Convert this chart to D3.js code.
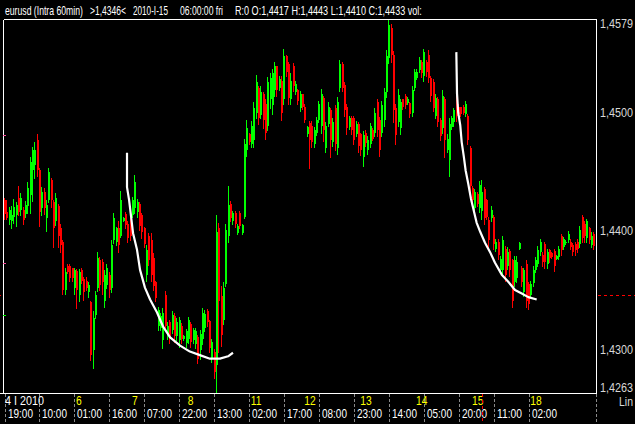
<!DOCTYPE html>
<html><head><meta charset="utf-8">
<script src="https://cdn.jsdelivr.net/npm/d3@7/dist/d3.min.js"></script>
<style>html,body{margin:0;padding:0;background:#000;}svg{display:block;}</style>
</head><body>
<script>
// ---- data (EUR/USD hourly bars) ----
const opens = [
1.4426,1.4416,1.4409,1.4408,1.4412,1.4413,1.4428,1.4418,1.4418,1.4414,
1.4421,1.4430,1.4451,1.4456,1.4477,1.4451,1.4419,1.4433,1.4411,1.4426,
1.4443,1.4424,1.4408,1.4421,1.4402,1.4391,1.4350,1.4370,1.4370,1.4369,
1.4352,1.4366,1.4346,1.4367,1.4359,1.4358,1.4348,1.4340,1.4299,1.4329,
1.4352,1.4375,1.4374,1.4341,1.4354,1.4363,1.4352,1.4392,1.4391,1.4402,
1.4396,1.4408,1.4414,1.4406,1.4408,1.4413,1.4419,1.4416,1.4423,1.4413,
1.4402,1.4363,1.4396,1.4392,1.4377,1.4357,1.4320,1.4318,1.4308,1.4346,
1.4312,1.4323,1.4316,1.4328,1.4311,1.4308,1.4320,1.4309,1.4305,1.4309,
1.4321,1.4308,1.4304,1.4310,1.4299,1.4309,1.4318,1.4332,1.4324,1.4292,
1.4298,1.4287,1.4402,1.4345,1.4325,1.4355,1.4396,1.4423,1.4408,1.4415,
1.4398,1.4415,1.4398,1.4412,1.4468,1.4482,1.4473,1.4477,1.4500,1.4521,
1.4498,1.4516,1.4507,1.4489,1.4511,1.4506,1.4519,1.4539,1.4521,1.4527,
1.4511,1.4548,1.4541,1.4511,1.4539,1.4517,1.4519,1.4504,1.4516,1.4505,
1.4482,1.4491,1.4489,1.4473,1.4483,1.4494,1.4489,1.4512,1.4470,1.4490,
1.4502,1.4475,1.4504,1.4470,1.4521,1.4541,1.4523,1.4505,1.4488,1.4495,
1.4495,1.4482,1.4490,1.4482,1.4462,1.4483,1.4468,1.4473,1.4485,1.4483,
1.4509,1.4494,1.4483,1.4494,1.4517,1.4546,1.4571,1.4549,1.4504,1.4492,
1.4487,1.4511,1.4514,1.4508,1.4508,1.4500,1.4521,1.4529,1.4536,1.4543,
1.4531,1.4543,1.4549,1.4529,1.4526,1.4497,1.4511,1.4494,1.4487,1.4511,
1.4468,1.4460,1.4488,1.4492,1.4512,1.4505,1.4505,1.4505,1.4499,1.4497,
1.4470,1.4436,1.4419,1.4431,1.4419,1.4417,1.4435,1.4426,1.4409,1.4411,
1.4412,1.4385,1.4391,1.4367,1.4367,1.4385,1.4370,1.4383,1.4375,1.4357,
1.4360,1.4385,1.4369,1.4348,1.4372,1.4355,1.4346,1.4356,1.4367,1.4372,
1.4382,1.4380,1.4389,1.4372,1.4384,1.4381,1.4383,1.4376,1.4378,1.4396,
1.4386,1.4390,1.4392,1.4391,1.4388,1.4389,1.4391,1.4389,1.4412,1.4406,
1.4394,1.4402,1.4388,1.4397];
const highs = [
1.4428,1.4426,1.4420,1.4421,1.4427,1.4424,1.4438,1.4432,1.4420,1.4425,
1.4441,1.4462,1.4471,1.4475,1.4482,1.4453,1.4437,1.4436,1.4426,1.4453,
1.4445,1.4426,1.4432,1.4423,1.4406,1.4392,1.4369,1.4372,1.4372,1.4369,
1.4369,1.4368,1.4368,1.4369,1.4361,1.4361,1.4357,1.4341,1.4332,1.4349,
1.4382,1.4378,1.4376,1.4367,1.4372,1.4365,1.4392,1.4415,1.4403,1.4408,
1.4434,1.4412,1.4416,1.4408,1.4411,1.4429,1.4447,1.4427,1.4424,1.4415,
1.4403,1.4388,1.4398,1.4398,1.4381,1.4358,1.4336,1.4331,1.4335,1.4349,
1.4323,1.4325,1.4332,1.4331,1.4326,1.4327,1.4322,1.4312,1.4317,1.4327,
1.4323,1.4318,1.4318,1.4312,1.4316,1.4335,1.4333,1.4334,1.4325,1.4309,
1.4300,1.4413,1.4407,1.4353,1.4357,1.4406,1.4438,1.4425,1.4417,1.4417,
1.4406,1.4417,1.4406,1.4478,1.4494,1.4483,1.4493,1.4509,1.4532,1.4522,
1.4522,1.4517,1.4511,1.4530,1.4533,1.4537,1.4543,1.4539,1.4531,1.4531,
1.4554,1.4549,1.4543,1.4533,1.4542,1.4527,1.4520,1.4518,1.4516,1.4507,
1.4489,1.4493,1.4493,1.4488,1.4496,1.4510,1.4520,1.4514,1.4492,1.4509,
1.4504,1.4495,1.4506,1.4513,1.4544,1.4543,1.4526,1.4507,1.4497,1.4497,
1.4497,1.4493,1.4492,1.4483,1.4484,1.4485,1.4480,1.4491,1.4487,1.4504,
1.4511,1.4496,1.4510,1.4521,1.4553,1.4578,1.4575,1.4552,1.4507,1.4520,
1.4511,1.4511,1.4516,1.4513,1.4509,1.4522,1.4537,1.4537,1.4547,1.4544,
1.4554,1.4544,1.4553,1.4531,1.4528,1.4516,1.4513,1.4495,1.4519,1.4513,
1.4482,1.4495,1.4497,1.4504,1.4514,1.4507,1.4505,1.4506,1.4510,1.4499,
1.4472,1.4438,1.4435,1.4433,1.4442,1.4443,1.4437,1.4427,1.4412,1.4421,
1.4413,1.4393,1.4393,1.4379,1.4396,1.4387,1.4386,1.4385,1.4376,1.4379,
1.4379,1.4391,1.4370,1.4369,1.4375,1.4357,1.4358,1.4370,1.4378,1.4387,
1.4393,1.4382,1.4391,1.4385,1.4385,1.4382,1.4385,1.4380,1.4387,1.4397,
1.4395,1.4392,1.4400,1.4393,1.4390,1.4391,1.4393,1.4404,1.4413,1.4408,
1.4410,1.4403,1.4399,1.4399];
const lows = [
1.4410,1.4410,1.4406,1.4402,1.4407,1.4404,1.4413,1.4413,1.4406,1.4412,
1.4415,1.4415,1.4425,1.4445,1.4446,1.4404,1.4413,1.4414,1.4400,1.4424,
1.4420,1.4386,1.4405,1.4386,1.4382,1.4347,1.4347,1.4364,1.4358,1.4358,
1.4347,1.4335,1.4341,1.4356,1.4342,1.4350,1.4344,1.4291,1.4284,1.4326,
1.4349,1.4350,1.4347,1.4336,1.4352,1.4344,1.4348,1.4390,1.4388,1.4382,
1.4395,1.4408,1.4402,1.4391,1.4392,1.4412,1.4415,1.4412,1.4401,1.4394,
1.4386,1.4358,1.4371,1.4358,1.4350,1.4341,1.4316,1.4316,1.4301,1.4316,
1.4309,1.4305,1.4314,1.4306,1.4308,1.4302,1.4305,1.4308,1.4302,1.4305,
1.4302,1.4305,1.4301,1.4288,1.4292,1.4304,1.4315,1.4320,1.4298,1.4289,
1.4276,1.4264,1.4298,1.4303,1.4321,1.4353,1.4391,1.4408,1.4406,1.4403,
1.4397,1.4402,1.4397,1.4411,1.4463,1.4473,1.4471,1.4471,1.4495,1.4490,
1.4495,1.4487,1.4478,1.4485,1.4504,1.4499,1.4514,1.4514,1.4519,1.4494,
1.4507,1.4531,1.4507,1.4507,1.4518,1.4516,1.4507,1.4501,1.4503,1.4492,
1.4480,1.4453,1.4471,1.4471,1.4481,1.4492,1.4483,1.4476,1.4467,1.4489,
1.4462,1.4472,1.4468,1.4465,1.4518,1.4518,1.4497,1.4482,1.4486,1.4482,
1.4473,1.4480,1.4467,1.4464,1.4455,1.4472,1.4465,1.4471,1.4477,1.4480,
1.4480,1.4463,1.4480,1.4489,1.4513,1.4542,1.4543,1.4492,1.4473,1.4489,
1.4482,1.4503,1.4504,1.4507,1.4496,1.4497,1.4519,1.4528,1.4534,1.4530,
1.4527,1.4531,1.4526,1.4510,1.4501,1.4495,1.4489,1.4477,1.4483,1.4462,
1.4467,1.4446,1.4486,1.4489,1.4493,1.4497,1.4497,1.4499,1.4497,1.4473,
1.4429,1.4424,1.4416,1.4421,1.4416,1.4410,1.4406,1.4410,1.4385,1.4408,
1.4385,1.4383,1.4376,1.4365,1.4362,1.4358,1.4368,1.4362,1.4336,1.4353,
1.4357,1.4385,1.4353,1.4345,1.4336,1.4334,1.4344,1.4353,1.4365,1.4370,
1.4380,1.4370,1.4369,1.4369,1.4374,1.4377,1.4366,1.4376,1.4376,1.4380,
1.4385,1.4389,1.4391,1.4385,1.4380,1.4380,1.4382,1.4386,1.4391,1.4391,
1.4391,1.4390,1.4386,1.4385];
const closes = [
1.4414,1.4411,1.4418,1.4413,1.4420,1.4422,1.4416,1.4428,1.4409,1.4422,
1.4436,1.4458,1.4468,1.4468,1.4451,1.4416,1.4433,1.4419,1.4422,1.4450,
1.4426,1.4402,1.4428,1.4396,1.4388,1.4350,1.4365,1.4365,1.4360,1.4360,
1.4367,1.4350,1.4365,1.4358,1.4348,1.4352,1.4354,1.4295,1.4326,1.4346,
1.4377,1.4354,1.4357,1.4363,1.4369,1.4350,1.4388,1.4411,1.4402,1.4388,
1.4426,1.4411,1.4405,1.4394,1.4396,1.4426,1.4441,1.4424,1.4404,1.4399,
1.4389,1.4384,1.4375,1.4363,1.4353,1.4343,1.4333,1.4328,1.4331,1.4320,
1.4320,1.4309,1.4329,1.4311,1.4323,1.4325,1.4309,1.4311,1.4315,1.4325,
1.4306,1.4316,1.4315,1.4292,1.4313,1.4331,1.4330,1.4323,1.4301,1.4306,
1.4281,1.4399,1.4341,1.4312,1.4352,1.4401,1.4422,1.4411,1.4415,1.4406,
1.4404,1.4404,1.4405,1.4473,1.4487,1.4475,1.4489,1.4504,1.4526,1.4495,
1.4517,1.4494,1.4483,1.4526,1.4529,1.4533,1.4539,1.4519,1.4528,1.4500,
1.4548,1.4534,1.4512,1.4527,1.4522,1.4524,1.4510,1.4516,1.4505,1.4494,
1.4488,1.4477,1.4475,1.4485,1.4494,1.4507,1.4516,1.4485,1.4489,1.4505,
1.4477,1.4492,1.4473,1.4509,1.4541,1.4521,1.4502,1.4487,1.4495,1.4485,
1.4477,1.4490,1.4472,1.4468,1.4481,1.4474,1.4477,1.4489,1.4478,1.4500,
1.4485,1.4468,1.4506,1.4517,1.4548,1.4574,1.4549,1.4502,1.4481,1.4515,
1.4509,1.4505,1.4506,1.4511,1.4499,1.4519,1.4534,1.4534,1.4544,1.4533,
1.4551,1.4534,1.4529,1.4514,1.4504,1.4512,1.4492,1.4480,1.4514,1.4477,
1.4478,1.4490,1.4495,1.4502,1.4497,1.4499,1.4499,1.4500,1.4507,1.4477,
1.4438,1.4426,1.4433,1.4423,1.4439,1.4433,1.4411,1.4412,1.4392,1.4418,
1.4389,1.4391,1.4380,1.4376,1.4392,1.4363,1.4382,1.4367,1.4341,1.4375,
1.4374,1.4390,1.4357,1.4367,1.4341,1.4338,1.4355,1.4367,1.4375,1.4384,
1.4391,1.4374,1.4374,1.4382,1.4377,1.4378,1.4370,1.4379,1.4385,1.4384,
1.4393,1.4391,1.4397,1.4386,1.4382,1.4384,1.4385,1.4401,1.4394,1.4396,
1.4408,1.4392,1.4396,1.4387];

// time axis labels: one every 15 bars
const timeLabels = ["19:00","10:00","01:00","16:00","07:00","22:00","13:00","02:00","17:00","08:00","23:00","14:00","05:00","20:00","11:00","02:00"];
const timeStep = 15;
const dayLabels = ["4 I 2010","6","7","8","11","12","13","14","15","18"];
const dayIndex  = [0,29,53,77,104,127,151,175,199,224];
const priceTicks = [1.4579,1.4500,1.4400,1.4300,1.4263];
const priceMin = 1.4263, priceMax = 1.4579;

// hand-drawn annotation curves [bar index, price]
const curve1 = [[52.6,1.4466],[52.6,1.4437],[53.5,1.4426],[55.2,1.4398],[56.9,1.4384],[58.2,1.4367],[60.3,1.4352],[62.5,1.4342],[65.5,1.4331],[68.1,1.4319],[71.1,1.4310],[75.4,1.4303],[79.6,1.4298],[83.9,1.4295],[88.2,1.4292],[92.5,1.4292],[96.0,1.4294],[98.1,1.4297]];
const curve2 = [[194.0,1.4551],[194.3,1.4516],[194.8,1.4500],[195.7,1.4489],[196.3,1.4475],[197.2,1.4463],[198.0,1.4451],[199.1,1.4440],[200.3,1.4427],[201.5,1.4417],[202.7,1.4407],[204.3,1.4399],[206.3,1.4390],[208.5,1.4382],[210.6,1.4373],[213.5,1.4363],[216.3,1.4357],[219.2,1.4350],[222.1,1.4347],[224.9,1.4344],[228.5,1.4342]];

const cursorIndex = 205, cursorPrice = 1.4346;
const markerPrices = [1.4481, 1.4373];
const markerPricesGreen = [1.4329];

// ---- drawing ----
const W = 635, H = 424;
const plotL = 3.5, plotR = 596.5, plotT = 19.5, plotB = 393.5;
const svg = d3.select("body").append("svg").attr("width", W).attr("height", H);
svg.append("rect").attr("width", W).attr("height", H).attr("fill", "#000");

const n = opens.length;
const x = d3.scaleLinear().domain([0, n - 1]).range([4.5, 4.5 + (n - 1) * 2.329]);
const y = d3.scaleLinear().domain([priceMin, priceMax]).range([393, 19]);

const bars = d3.range(n).map(i => ({i, o: opens[i], h: highs[i], l: lows[i], c: closes[i]}));
const gB = svg.append("g").attr("shape-rendering", "crispEdges");
gB.selectAll("rect.wick").data(bars).join("rect")
  .attr("x", d => Math.floor(x(d.i))).attr("width", 1)
  .attr("y", d => Math.round(y(d.h))).attr("height", d => Math.max(1, Math.round(y(d.l)) - Math.round(y(d.h)) + 1))
  .attr("fill", d => d.c >= d.o ? "#00ff00" : "#ff0000");
gB.selectAll("rect.body").data(bars).join("rect")
  .attr("x", d => Math.floor(x(d.i))).attr("width", 2)
  .attr("y", d => Math.round(y(Math.max(d.o, d.c))))
  .attr("height", d => Math.max(1, Math.round(y(Math.min(d.o, d.c))) - Math.round(y(Math.max(d.o, d.c)))))
  .attr("fill", d => d.c >= d.o ? "#00ff00" : "#ff0000");

const line = d3.line().x(d => x(d[0])).y(d => y(d[1]));
[curve1, curve2].forEach(cv => {
  svg.append("path").attr("d", line(cv)).attr("fill", "none")
    .attr("stroke", "#fff").attr("stroke-width", 2.2).attr("stroke-linejoin", "round");
});

// frame
const gF = svg.append("g").attr("shape-rendering", "crispEdges").attr("stroke", "#fff").attr("stroke-width", 1);
gF.append("line").attr("x1", plotL).attr("x2", plotR).attr("y1", plotT).attr("y2", plotT);
gF.append("line").attr("x1", 0).attr("x2", plotR).attr("y1", plotB).attr("y2", plotB);
gF.append("line").attr("x1", plotL).attr("x2", plotL).attr("y1", plotT).attr("y2", plotB);
gF.append("line").attr("x1", plotR).attr("x2", plotR).attr("y1", plotT).attr("y2", plotB);

// small level markers at left edge
markerPrices.forEach(p => svg.append("rect").attr("x", 3).attr("y", Math.round(y(p))).attr("width", 3).attr("height", 1).attr("fill", "#ff4fa0"));
markerPricesGreen.forEach(p => svg.append("rect").attr("x", 3).attr("y", Math.round(y(p))).attr("width", 3).attr("height", 1).attr("fill", "#00ff00"));
svg.append("rect").attr("x", 0).attr("y", Math.round(y(cursorPrice))).attr("width", 1).attr("height", 1).attr("fill", "#ff0000");

const font = "'Liberation Sans',Arial,sans-serif";
// text horizontally condensed to a target width (the reference uses a narrow bitmap font)
function addText(parent, str, tx, ty, size, fill, target, anchor) {
  const g = parent.append("g");
  const t = g.append("text").attr("x", 0).attr("y", 0)
    .attr("fill", fill).attr("font-family", font).attr("font-size", size).text(str);
  const w = t.node().getComputedTextLength();
  const sx = target ? target / w : 0.82;
  const shift = anchor === "end" ? -w * sx : 0;
  g.attr("transform", `translate(${tx + shift},${ty}) scale(${sx},1)`);
  return t;
}

// price labels (right)
const fmt = p => d3.format(".4f")(p).replace(".", ",");
priceTicks.forEach(p => {
  const yy = Math.min(387, Math.max(23, y(p)));
  addText(svg, fmt(p), 600, yy + 4.6, 13, "#d8d8d8", 33);
});
addText(svg, "Lin", 633, 405.5, 12.5, "#d8d8d8", 14, "end");

// time axis
const gT = svg.append("g");
timeLabels.forEach((t, k) => {
  const xx = Math.round(x(k * timeStep)) + 0.5;
  gT.append("line").attr("x1", xx).attr("x2", xx).attr("y1", 394).attr("y2", 424)
    .attr("stroke", "#8a8a8a").attr("stroke-dasharray", "3,2").attr("shape-rendering", "crispEdges");
  addText(gT, t, xx + 2.5, 418, 12.5, "#fff", 25);
});
gT.append("line").attr("x1", plotR).attr("x2", plotR).attr("y1", 394).attr("y2", 424)
  .attr("stroke", "#8a8a8a").attr("stroke-dasharray", "3,2").attr("shape-rendering", "crispEdges");
dayLabels.forEach((t, k) => {
  const xx = x(dayIndex[k]) + (k === 0 ? 0.5 : 4);
  addText(gT, t, xx, 405, 12.5, k === 0 ? "#fff" : "#ffff00", k === 0 ? 39 : null);
});

// cursor lines
svg.append("line").attr("x1", 598).attr("x2", 635).attr("y1", Math.round(y(cursorPrice)) + 0.5).attr("y2", Math.round(y(cursorPrice)) + 0.5)
  .attr("stroke", "#ff0000").attr("stroke-dasharray", "3,3").attr("shape-rendering", "crispEdges");
svg.append("line").attr("x1", Math.round(x(cursorIndex)) + 0.5).attr("x2", Math.round(x(cursorIndex)) + 0.5).attr("y1", 394).attr("y2", 424)
  .attr("stroke", "#ff0000").attr("stroke-dasharray", "3,3").attr("shape-rendering", "crispEdges");

// header
const hdr = [
  ["eurusd (Intra 60min)", 5, 78],
  [">" + fmt(cursorPrice) + "<", 90, 36],
  ["2010-I-15", 133, 35],
  ["06:00:00 fri", 180, 43],
  ["R:0 O:" + fmt(opens[cursorIndex]) + " H:" + fmt(highs[cursorIndex]) +
   " L:" + fmt(lows[cursorIndex]) + " C:" + fmt(closes[cursorIndex]) + " vol:", 235, 187]
];
hdr.forEach(([t, xx, w]) => addText(svg, t, xx, 14.5, 12, "#fff", w));
</script>
</body></html>
